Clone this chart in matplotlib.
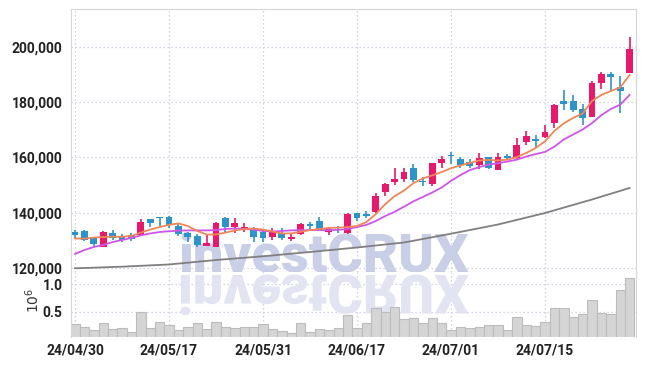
import matplotlib
matplotlib.use("Agg")
import matplotlib.pyplot as plt
import numpy as np
import pandas as pd
from matplotlib.patches import PathPatch
from matplotlib.textpath import TextPath
from matplotlib.font_manager import FontProperties
from matplotlib.transforms import Affine2D

# trading days (KRX), 2024-04-30 .. 2024-07-26
dates = pd.bdate_range("2024-04-30", "2024-07-26", freq="C",
                       holidays=["2024-05-01", "2024-05-06", "2024-05-15", "2024-06-06"])
date_labels = list(dates.strftime("%y/%m/%d"))

opens = [133000, 133400, 130700, 127700, 132500, 131500, 131800, 131900, 137700, 138500,
         138500, 135300, 132600, 131600, 128100, 127700, 138000, 134900, 134100, 134400,
         133100, 131300, 132600, 130400, 132200, 135800, 137100, 133100, 134000, 132500,
         139800, 139400, 140400, 147600, 151200, 152100, 156100, 151500, 150300, 158100,
         160900, 159300, 158500, 157300, 160000, 155400, 160600, 159700, 165700, 166700,
         167500, 172600, 180400, 180400, 177400, 174700, 186800, 190200, 185400, 190600]
highs = [133700, 133600, 131000, 133400, 133700, 132200, 132500, 137600, 137900, 138600,
         138800, 135900, 132900, 132200, 131800, 136800, 138300, 138000, 136400, 134700,
         133500, 134600, 134400, 132600, 136200, 136700, 138300, 134900, 135200, 139800,
         140000, 140600, 147000, 150600, 156100, 156100, 157600, 153000, 158100, 160500,
         162100, 160200, 159300, 161500, 160300, 161700, 161100, 166900, 169600, 168100,
         171700, 179300, 184400, 182600, 179200, 187600, 191000, 190800, 189400, 203400]
lows = [131000, 129900, 128100, 127500, 130100, 129300, 129800, 131600, 134900, 135300,
        134500, 131600, 129500, 127500, 127800, 127500, 132800, 132800, 133100, 129500,
        129500, 130100, 130100, 129900, 131900, 134100, 133500, 131900, 132800, 132300,
        137100, 138100, 139800, 146000, 150000, 151200, 151200, 149700, 149700, 156100,
        157600, 156200, 156100, 155700, 155700, 155300, 159100, 159300, 164500, 163300,
        166900, 170500, 177100, 176500, 171700, 174500, 184700, 184000, 176000, 190400]
closes = [131800, 130100, 128600, 133100, 131000, 130100, 130500, 136500, 136200, 138000,
          135400, 132200, 131300, 128300, 129200, 136200, 134700, 136200, 134800, 131100,
          130700, 133100, 130700, 131300, 135800, 135100, 133700, 134000, 133600, 139500,
          138000, 138800, 146000, 150400, 152200, 154800, 151800, 151000, 157900, 159300,
          160400, 157400, 156900, 159900, 156100, 160300, 159700, 164500, 167700, 166000,
          169300, 179000, 179400, 177100, 174400, 186800, 190200, 189200, 184100, 199100]

ma_short = [130700, 130600, 131000, 131200, 131300, 131300, 131600, 132800, 133900, 134800,
            135600, 136100, 135200, 133400, 132100, 132100, 132800, 133600, 134100, 134300,
            133900, 133200, 132500, 132500, 133100, 133700, 134100, 134500, 134600, 134800,
            135200, 136600, 139500, 143100, 146000, 148000, 150700, 152400, 153500, 154700,
            156100, 157100, 158000, 158900, 159100, 158900, 159200, 160100, 161600, 163400,
            165800, 169600, 172300, 174300, 175900, 180400, 182600, 184000, 185300, 189800]
ma_mid = [125100, 126500, 127600, 128300, 129400, 130100, 130900, 131800, 132500, 133000,
          133300, 133500, 133600, 133600, 133600, 133700, 134100, 134300, 134100, 133900,
          133400, 133200, 133400, 133600, 133700, 133700, 133700, 133700, 133800, 134100,
          134800, 135600, 137000, 138800, 140300, 142200, 144100, 145700, 147300, 149100,
          151500, 153600, 155400, 156500, 157400, 157900, 158500, 159200, 160300, 161200,
          162000, 163900, 166500, 168300, 170100, 172400, 175300, 177500, 179100, 182600]
ma_long_pos = [0, 5, 10, 15, 20, 25, 30, 35, 40, 45, 50, 55, 59]
ma_long = [119890, 120470, 121270, 122890, 124230, 125790, 127410, 129220, 132400,
           135730, 139890, 144780, 148940]

volume = [0.278, 0.218, 0.17, 0.29, 0.182, 0.2, 0.139, 0.5, 0.2, 0.309,
          0.254, 0.164, 0.224, 0.29, 0.182, 0.32, 0.23, 0.2, 0.23, 0.23,
          0.272, 0.182, 0.158, 0.11, 0.302, 0.139, 0.182, 0.164, 0.212, 0.435,
          0.212, 0.29, 0.572, 0.494, 0.58, 0.363, 0.392, 0.29, 0.38, 0.29,
          0.164, 0.218, 0.2, 0.218, 0.254, 0.254, 0.164, 0.398, 0.254, 0.236,
          0.309, 0.561, 0.561, 0.398, 0.453, 0.705, 0.47, 0.453, 0.886, 1.103]

price_ticks = [120000, 140000, 160000, 180000, 200000]
vol_ticks = [0.5, 1.0]

RED = "#e8196a"
BLUE = "#2d93c8"
ORANGE = "#ef8658"
MAGENTA = "#cf55ea"
GRAY = "#808080"
GRID = "#c3c8de"
INK = "#222222"

plt.rcParams["font.family"] = ["Roboto", "DejaVu Sans"]

W, H = 645, 366
fig = plt.figure(figsize=(W / 100, H / 100), dpi=100)


def box(left, top, right, bottom):
    return [left / W, 1 - bottom / H, (right - left) / W, (bottom - top) / H]


ax = fig.add_axes(box(71, 9, 636, 272))
axv = fig.add_axes(box(71, 272, 636, 337), sharex=ax)

x = np.arange(len(dates))
o = np.array(opens, float)
c = np.array(closes, float)
up = c >= o
cols = np.where(up, RED, BLUE)

ax.vlines(x, lows, highs, colors=cols, lw=1.2, zorder=3)
ax.bar(x, np.maximum(np.abs(c - o), 550), bottom=np.minimum(o, c), width=0.72,
       color=cols, lw=0, zorder=4)

ax.plot(ma_long_pos, ma_long, color=GRAY, lw=1.3, zorder=5)
ax.plot(x, ma_mid, color=MAGENTA, lw=1.3, zorder=5)
ax.plot(x, ma_short, color=ORANGE, lw=1.3, zorder=5)

axv.bar(x, volume, width=1.0, color="#d5d5d5", edgecolor="#bcbcbc", lw=0.8, zorder=2)

ax.set_xlim(-0.43, 59.68)
ax.set_ylim(118550, 213680)
axv.set_ylim(0.043, 1.217)

ax.set_yticks(price_ticks)
ax.set_yticklabels([f"{v:,}" for v in price_ticks])
axv.set_yticks(vol_ticks)
axv.set_yticklabels([f"{v:.1f}" for v in vol_ticks])
axv.set_xticks(x[::10])
axv.set_xticklabels(date_labels[::10])

for a in (ax, axv):
    a.grid(True, ls=(0, (1, 2.2)), color=GRID, lw=0.9, zorder=0)
    a.set_axisbelow(True)
    a.tick_params(length=0, pad=6, labelsize=10, labelcolor=INK)
    for t in a.get_xticklabels() + a.get_yticklabels():
        t.set_fontweight("bold")
    for s in ("top", "left", "right"):
        a.spines[s].set_color("#d6d6d6")
ax.tick_params(labelbottom=False)
ax.spines["bottom"].set_color("#b5b5b5")
axv.spines["top"].set_visible(False)
axv.spines["bottom"].set_visible(False)
axv.tick_params(axis="x", pad=5)

fig.text(33 / W, 1 - 300 / H, r"$10^{6}$", rotation=90, ha="center", va="center",
         fontsize=10, color="#333333")

# watermark with its reflection under the baseline
wm_prop = FontProperties(family="Roboto", weight="black")
ax.text(178 / W, 1 - 272 / H, "investCRUX", transform=fig.transFigure,
        fontproperties=wm_prop, fontsize=39, color="#c8cfe6", zorder=1,
        ha="left", va="baseline", clip_on=False)
tp = TextPath((0, 0), "investCRUX", size=39 * 100 / 72, prop=wm_prop)
flip = Affine2D().scale(1 / W, -1 / H).translate(178 / W, 1 - 275 / H) + fig.transFigure
axv.add_artist(PathPatch(tp, transform=flip, facecolor="#e2e5f1", lw=0,
                         zorder=1, clip_on=False))

fig.savefig("out.png", dpi=100)
